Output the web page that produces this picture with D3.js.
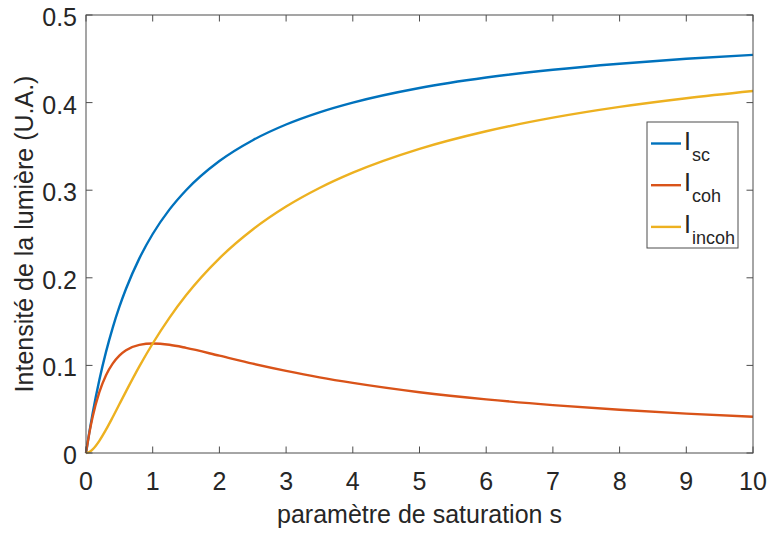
<!DOCTYPE html>
<html><head><meta charset="utf-8">
<script src="https://cdn.jsdelivr.net/npm/d3@7"></script>
<style>body{margin:0;background:#fff}svg{display:block}text{font-family:"Liberation Sans",Arial,sans-serif;fill:#262626}</style>
</head><body><svg id="c" width="769" height="534"></svg>
<script>
const sVals   = [0,0.05,0.1,0.2,0.3,0.4,0.5,0.6,0.8,1,1.25,1.5,2,2.5,3,3.5,4,5,6,7,8,9,10];
const iSc     = [0,0.0238,0.0455,0.0833,0.1154,0.1429,0.1667,0.1875,0.2222,0.25,0.2778,0.3,0.3333,0.3571,0.375,0.3889,0.4,0.4167,0.4286,0.4375,0.4444,0.45,0.4545];
const iCoh    = [0,0.0227,0.0413,0.0694,0.0888,0.1020,0.1111,0.1172,0.1235,0.125,0.1235,0.12,0.1111,0.1020,0.0938,0.0864,0.08,0.0694,0.0612,0.0547,0.0494,0.045,0.0413];
const iIncoh  = [0,0.0011,0.0041,0.0139,0.0266,0.0408,0.0556,0.0703,0.0988,0.125,0.1543,0.18,0.2222,0.2551,0.2813,0.3025,0.32,0.3472,0.3673,0.3828,0.3951,0.405,0.4132];
const xTicks = [0,1,2,3,4,5,6,7,8,9,10];
const yTicks = [0,0.1,0.2,0.3,0.4,0.5];
const seriesNames = ["sc","coh","incoh"];
const colors = ["#0072BD","#D95319","#EDB120"];

const svg = d3.select("#c");
const L=86,R=753,T=15,B=453;
const x = d3.scaleLinear().domain([0,10]).range([L,R]);
const y = d3.scaleLinear().domain([0,0.5]).range([B,T]);
const axisCol="#4d4d4d";
const FS=25;

const data=[iSc,iCoh,iIncoh];
const line=d3.line().x((d,i)=>x(sVals[i])).y(d=>y(d)).curve(d3.curveMonotoneX);
data.forEach((arr,k)=>{
  svg.append("path").attr("d",line(arr)).attr("fill","none").attr("stroke",colors[k]).attr("stroke-width",2.4);
});

svg.append("rect").attr("x",L).attr("y",T).attr("width",R-L).attr("height",B-T).attr("fill","none").attr("stroke",axisCol).attr("stroke-width",1);
const tl=6.5;
xTicks.forEach(t=>{
  svg.append("line").attr("x1",x(t)).attr("x2",x(t)).attr("y1",B).attr("y2",B-tl).attr("stroke",axisCol);
  svg.append("line").attr("x1",x(t)).attr("x2",x(t)).attr("y1",T).attr("y2",T+tl).attr("stroke",axisCol);
  svg.append("text").attr("x",x(t)).attr("y",B+37).attr("text-anchor","middle").attr("font-size",FS).text(t);
});
yTicks.forEach(t=>{
  svg.append("line").attr("x1",L).attr("x2",L+tl).attr("y1",y(t)).attr("y2",y(t)).attr("stroke",axisCol);
  svg.append("line").attr("x1",R).attr("x2",R-tl).attr("y1",y(t)).attr("y2",y(t)).attr("stroke",axisCol);
  svg.append("text").attr("x",L-9).attr("y",y(t)+11).attr("text-anchor","end").attr("font-size",FS).text(t);
});
svg.append("text").attr("x",(L+R)/2).attr("y",523).attr("text-anchor","middle").attr("font-size",FS).text("paramètre de saturation s");
svg.append("text").attr("transform",`translate(33,${(T+B)/2}) rotate(-90)`).attr("text-anchor","middle").attr("font-size",FS).text("Intensité de la lumière (U.A.)");

const lg=svg.append("g");
lg.append("rect").attr("x",647).attr("y",122).attr("width",91).attr("height",126).attr("fill","#fff").attr("stroke",axisCol);
seriesNames.forEach((n,k)=>{
  const yy=143.5+k*41.7;
  lg.append("line").attr("x1",651).attr("x2",681).attr("y1",yy).attr("y2",yy).attr("stroke",colors[k]).attr("stroke-width",2.4);
  const t=lg.append("text").attr("x",684).attr("y",yy+6).attr("font-size",FS);
  t.append("tspan").text("I");
  t.append("tspan").attr("font-size",18).attr("dy",11).attr("dx",1).text(n);
});
</script></body></html>
